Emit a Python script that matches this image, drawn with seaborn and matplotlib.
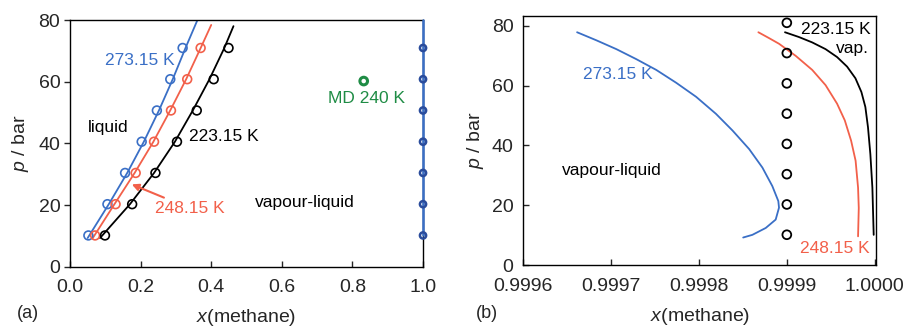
import pandas as pd
import matplotlib
matplotlib.use('Agg')
import matplotlib.pyplot as plt
import seaborn as sns

# pressures of the simulated state points (10..80 atm in bar)
p_sim = [10.13, 20.27, 30.40, 40.53, 50.66, 60.80, 70.93]
p_sim_b = [10.13, 20.27, 30.40, 40.53, 50.66, 60.80, 70.93, 81.06]

# panel (a): liquid-side mole fractions, simulation points
x_273_pts = [0.052, 0.106, 0.156, 0.203, 0.246, 0.284, 0.319]
x_248_pts = [0.071, 0.129, 0.186, 0.238, 0.286, 0.332, 0.370]
x_223_pts = [0.099, 0.176, 0.242, 0.303, 0.359, 0.407, 0.449]

# panel (a): reference curves
p_273_line = [9.3, 20.3, 30.4, 40.5, 50.7, 60.8, 70.9, 80.0]
x_273_line = [0.050, 0.110, 0.162, 0.209, 0.252, 0.291, 0.327, 0.361]
p_248_line = [9.2, 20.3, 30.4, 40.5, 50.7, 60.8, 70.9, 78.4]
x_248_line = [0.064, 0.126, 0.183, 0.236, 0.284, 0.329, 0.370, 0.400]
p_223_line = [9.3, 20.3, 30.4, 40.5, 50.7, 60.8, 70.9, 78.0]
x_223_line = [0.085, 0.170, 0.238, 0.297, 0.348, 0.395, 0.437, 0.463]

# vapour side at x = 1 in panel (a)
x_vap_a = [1.0] * 7
p_vap_line = [10.13, 80.0]
x_vap_line = [1.0, 1.0]

# MD point
x_md = [0.832]
p_md = [60.2]

# panel (b): vapour-side curves
p_273_b = [77.9, 75.2, 72.25, 68.9, 65.3, 61.0, 56.3, 50.6, 45.0, 38.8, 32.6, 26.4,
           21.4, 19.2, 15.2, 12.4, 10.1, 9.2]
x_273_b = [0.9996612, 0.9996832, 0.9997059, 0.9997286, 0.9997513, 0.9997740, 0.9997967,
           0.9998193, 0.9998382, 0.9998571, 0.9998722, 0.9998835, 0.9998903, 0.9998911,
           0.9998873, 0.9998760, 0.9998608, 0.9998503]
p_248_b = [77.9, 75.9, 74.05, 70.0, 65.3, 60.2, 54.0, 48.4, 41.6, 34.9, 25.9, 19.1, 9.6]
x_248_b = [0.9998676, 0.9998800, 0.9998911, 0.9999101, 0.9999289, 0.9999441, 0.9999572,
           0.9999660, 0.9999732, 0.9999783, 0.9999811, 0.9999819, 0.9999811]
p_223_b = [77.9, 76.3, 74.5, 72.25, 69.6, 66.4, 62.5, 57.9, 52.9, 46.1, 37.1, 25.9, 10.1]
x_223_b = [0.9998979, 0.9999138, 0.9999289, 0.9999441, 0.9999572, 0.9999686, 0.9999781,
           0.9999849, 0.9999894, 0.9999924, 0.9999951, 0.9999974, 0.9999989]
x_sim_b = [0.9999] * 8

blue = '#3a6fc6'
red = '#f2604a'
green = '#1f8c45'
dblue = '#2a4c9c'

sns.set_style('ticks')
plt.rcParams['font.family'] = ['Liberation Sans', 'DejaVu Sans']
plt.rcParams['mathtext.fontset'] = 'custom'
plt.rcParams['mathtext.it'] = 'Liberation Sans:italic'
plt.rcParams['mathtext.rm'] = 'Liberation Sans'
plt.rcParams['axes.edgecolor'] = 'black'
plt.rcParams['axes.linewidth'] = 1.0

fig = plt.figure(figsize=(9.07, 3.29), dpi=100)
ax1 = fig.add_axes([0.0772, 0.1894, 0.3892, 0.7498])
ax2 = fig.add_axes([0.577, 0.1945, 0.3888, 0.7565])

# ---- panel (a)
for xs, ps, c in [(x_273_line, p_273_line, blue), (x_248_line, p_248_line, red), (x_223_line, p_223_line, 'black')]:
    sns.lineplot(x=xs, y=ps, ax=ax1, color=c, lw=1.3, estimator=None, sort=False)
for xs, c in [(x_273_pts, blue), (x_248_pts, red), (x_223_pts, 'black')]:
    sns.scatterplot(x=xs, y=p_sim, ax=ax1, s=40, facecolor='none', edgecolor=c, linewidth=1.2, zorder=3)
sns.lineplot(x=x_vap_line, y=p_vap_line, ax=ax1, color=blue, lw=1.8, estimator=None, sort=False)
ax1.lines[-1].set_clip_on(False)
ax1.lines[-1].set_zorder(5)
sns.scatterplot(x=x_vap_a, y=p_sim, ax=ax1, s=20, facecolor='none', edgecolor=dblue, linewidth=1.8, zorder=6, clip_on=False)
sns.scatterplot(x=x_md, y=p_md, ax=ax1, s=30, facecolor='none', edgecolor=green, linewidth=2.2, zorder=4)

ax1.set_xlim(0, 1.0)
ax1.set_ylim(0, 80)
ax1.set_xticks([0, 0.2, 0.4, 0.6, 0.8, 1.0])
ax1.set_xticklabels(['0.0', '0.2', '0.4', '0.6', '0.8', '1.0'])
ax1.set_yticks([0, 20, 40, 60, 80])
ax1.tick_params(axis='x', direction='in', length=4, pad=9, labelsize=14, width=1)
ax1.tick_params(axis='y', direction='out', length=4, pad=3, labelsize=14, width=1)
ax1.set_xlabel(r'$x$(methane)', fontsize=14, labelpad=8)
ax1.set_ylabel(r'$p$ / bar', fontsize=14, labelpad=5)

ax1.text(0.198, 67, '273.15 K', color=blue, fontsize=12.5, ha='center', va='center')
ax1.text(0.109, 45, 'liquid', color='black', fontsize=12.5, ha='center', va='center')
ax1.text(0.336, 42.2, '223.15 K', color='black', fontsize=12.5, ha='left', va='center')
ax1.text(0.666, 20.8, 'vapour-liquid', color='black', fontsize=12.5, ha='center', va='center')
ax1.text(0.839, 54.4, 'MD 240 K', color=green, fontsize=12.5, ha='center', va='center')
ax1.annotate('248.15 K', xy=(0.175, 26.7), xytext=(0.34, 18.9), color=red, fontsize=12.5,
             ha='center', va='center',
             arrowprops=dict(arrowstyle='-|>', color=red, lw=1.5, mutation_scale=10,
                             shrinkA=30, shrinkB=0))

# ---- panel (b)
for xs, ps, c in [(x_273_b, p_273_b, blue), (x_248_b, p_248_b, red), (x_223_b, p_223_b, 'black')]:
    sns.lineplot(x=xs, y=ps, ax=ax2, color=c, lw=1.3, estimator=None, sort=False)
sns.scatterplot(x=x_sim_b, y=p_sim_b, ax=ax2, s=40, facecolor='none', edgecolor='black', linewidth=1.3, zorder=3)

ax2.set_xlim(0.9996, 1.0000015)
ax2.set_ylim(0, 83.3)
ax2.set_xticks([0.9996, 0.9997, 0.9998, 0.9999, 1.0])
ax2.set_xticklabels(['0.9996', '0.9997', '0.9998', '0.9999', '1.0000'])
ax2.set_yticks([0, 20, 40, 60, 80])
ax2.tick_params(axis='x', direction='in', length=4, pad=9, labelsize=14, width=1)
ax2.tick_params(axis='y', direction='in', length=4, pad=7, labelsize=14, width=1)
ax2.set_xlabel(r'$x$(methane)', fontsize=14, labelpad=8)
ax2.set_ylabel(r'$p$ / bar', fontsize=14, labelpad=4)

ax2.text(0.999707, 63.6, '273.15 K', color=blue, fontsize=12.5, ha='center', va='center')
ax2.text(0.999701, 31.6, 'vapour-liquid', color='black', fontsize=12.5, ha='center', va='center')
ax2.text(0.999955, 5.6, '248.15 K', color=red, fontsize=12.5, ha='center', va='center')
ax2.text(0.999956, 78.7, '223.15 K', color='black', fontsize=12.5, ha='center', va='center')
ax2.text(0.999994, 72.3, 'vap.', color='black', fontsize=12.5, ha='right', va='center')

for ax in (ax1, ax2):
    for s in ax.spines.values():
        s.set_visible(True)
        s.set_color('black')

fig.text(28 / 907, 1 - 313 / 329, '(a)', fontsize=13, ha='center', va='center')
fig.text(487 / 907, 1 - 313 / 329, '(b)', fontsize=13, ha='center', va='center')

fig.savefig('out.png', dpi=100)
